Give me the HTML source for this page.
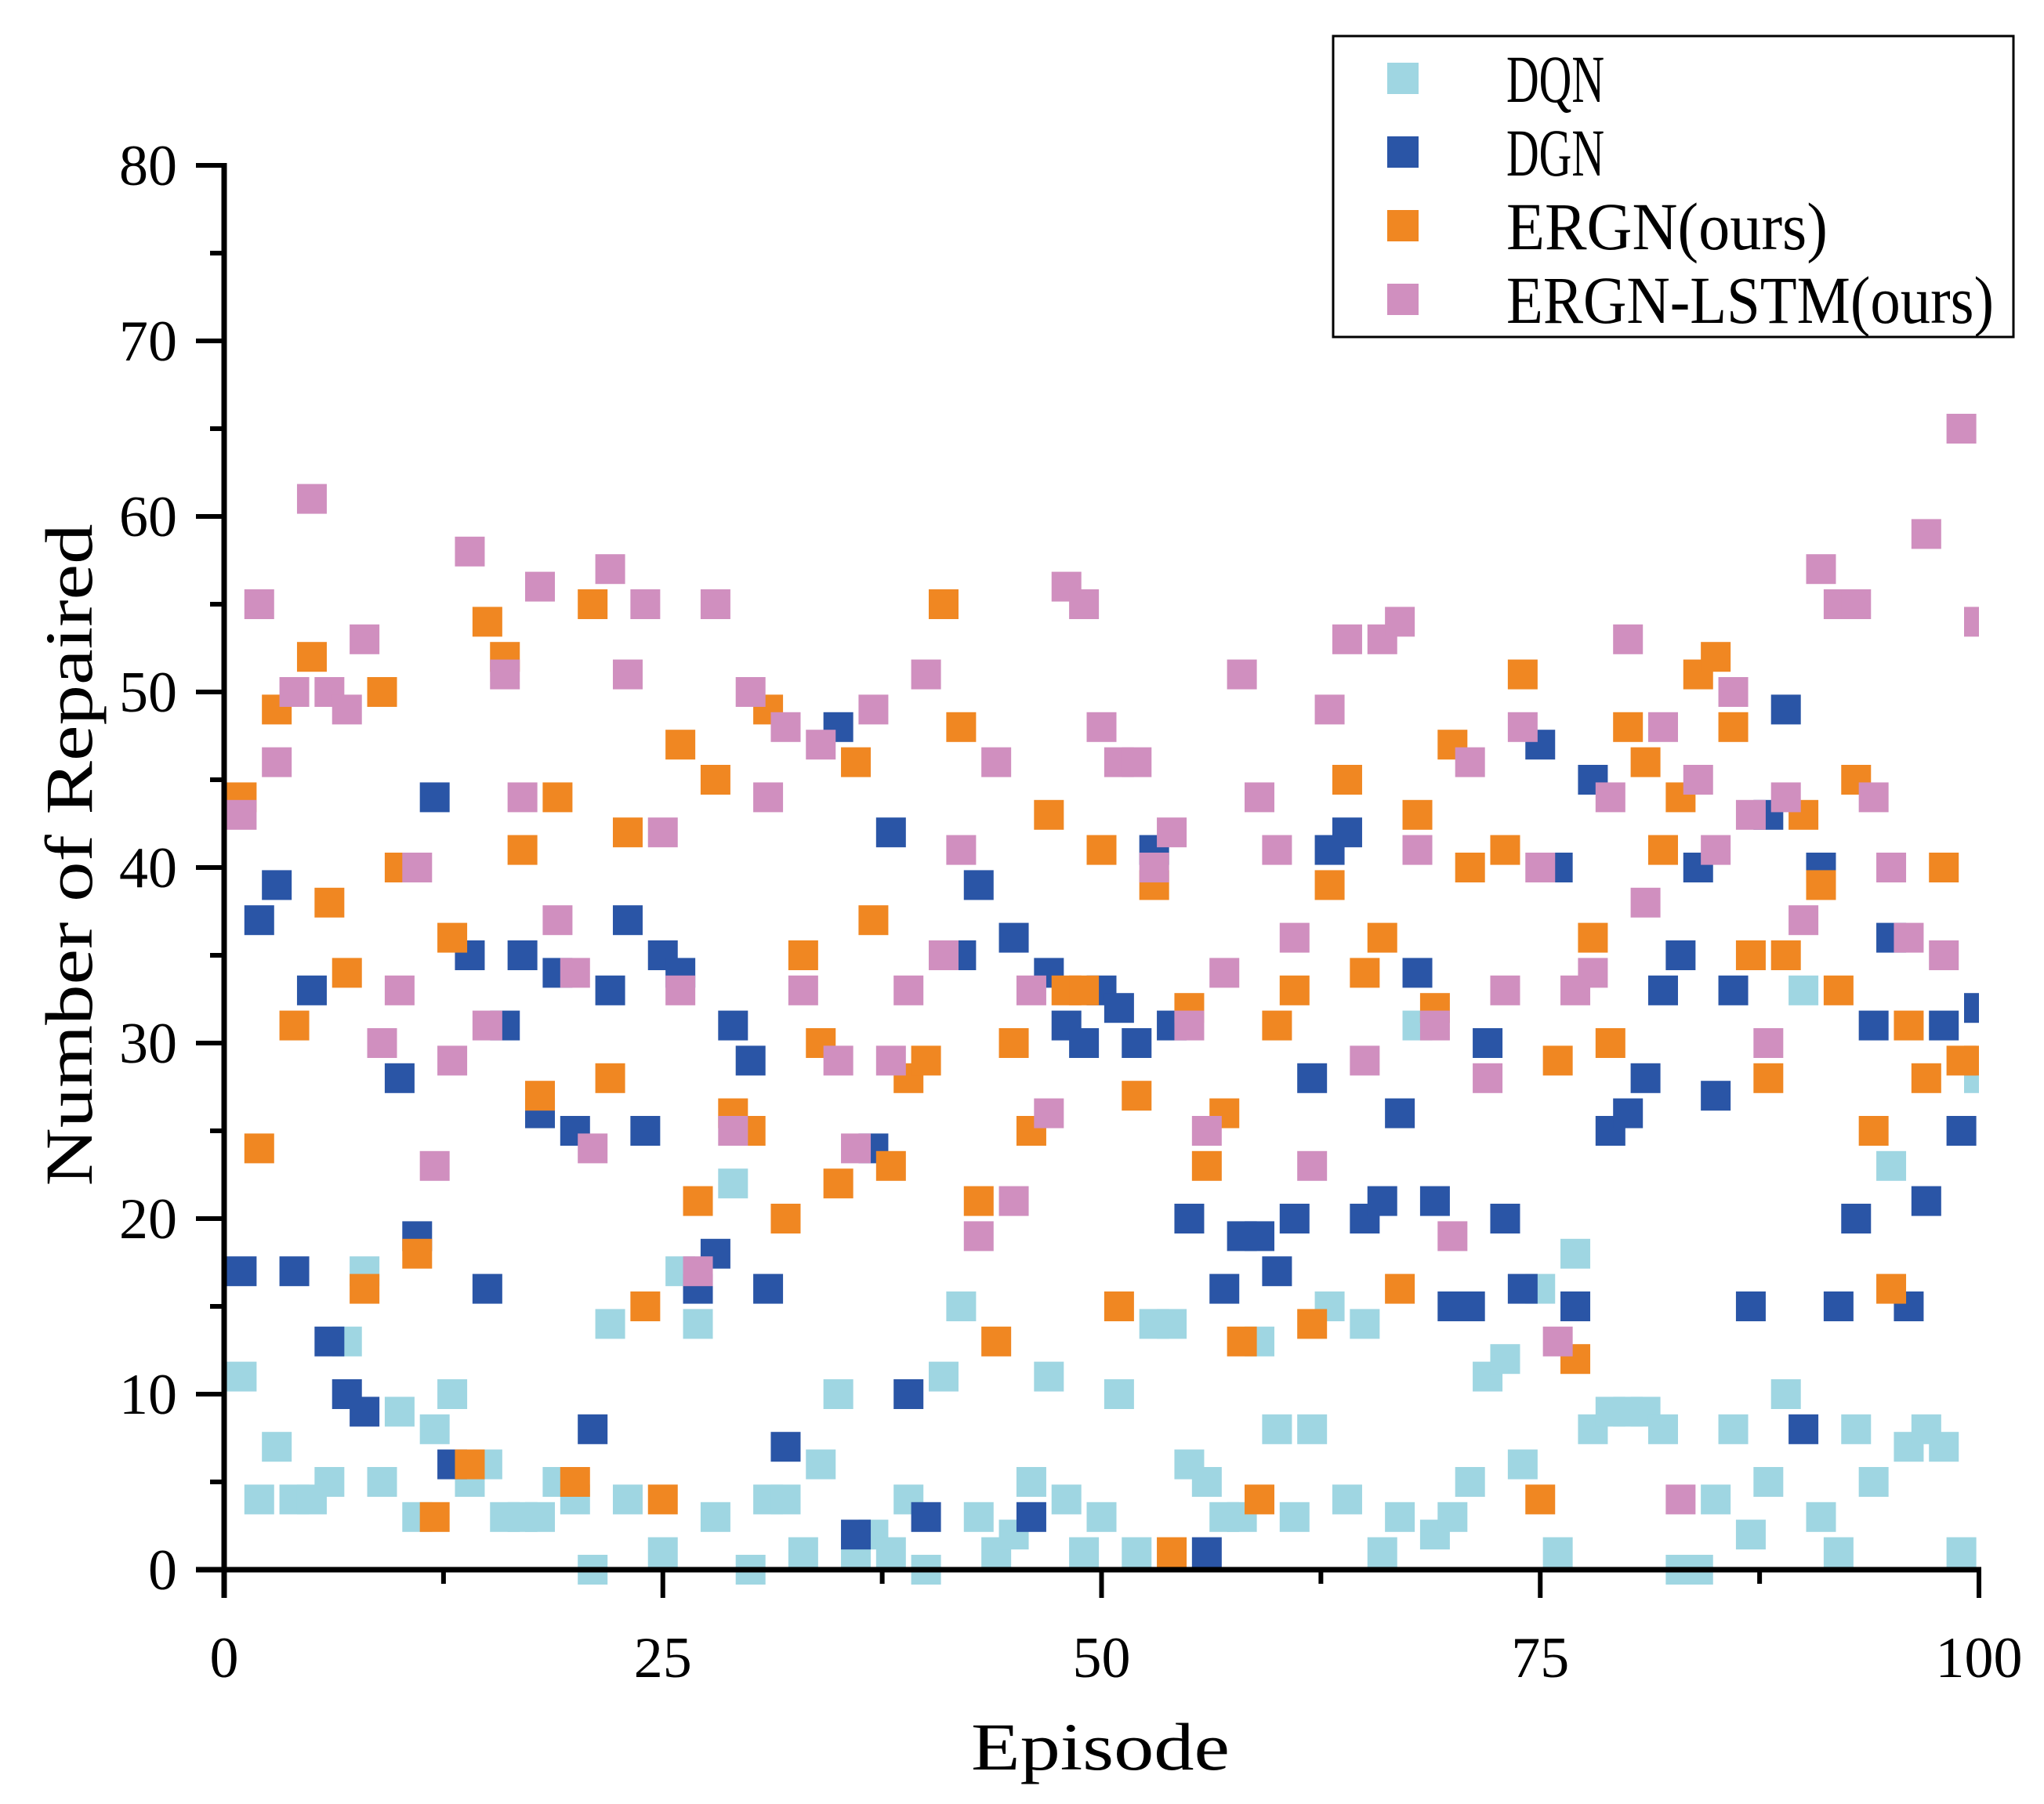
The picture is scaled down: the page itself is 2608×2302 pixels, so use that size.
<!DOCTYPE html>
<html><head><meta charset="utf-8"><style>
html,body{margin:0;padding:0;background:#fff;}
svg{display:block;}
</style></head><body>
<svg id="chart" width="2608" height="2302" viewBox="0 0 2608 2302" xmlns="http://www.w3.org/2000/svg">
<defs><clipPath id="plotclip"><rect x="289" y="150" width="2236" height="1890"/></clipPath></defs>
<rect width="2608" height="2302" fill="#fff"/>
<g id="marks" clip-path="url(#plotclip)"></g>
<g id="axes"></g>
<g id="legend"></g>
</svg>
<script>
const episodes = Array.from({length:100},(_, i)=>i+1);
const dqn = [11,4,7,4,4,5,13,17,5,9,3,8,10,5,6,3,3,3,5,4,0,14,4,null,1,17,14,3,22,0,4,4,1,6,10,1,2,1,4,0,11,15,3,1,2,5,11,4,1,3,10,1,14,14,6,5,3,3,13,8,3,8,15,4,14,1,3,31,2,3,5,11,12,6,16,1,18,8,9,9,9,8,0,0,4,8,2,5,10,33,3,1,8,5,23,7,8,7,1,28];
const dgn = [17,37,39,17,33,13,10,9,null,28,19,44,6,35,16,31,35,26,34,25,8,33,37,25,35,34,16,18,31,29,16,7,null,null,48,2,24,42,10,3,null,35,39,null,36,3,34,31,30,33,32,30,41,31,20,1,16,19,19,17,20,28,41,42,20,21,26,34,21,15,15,30,20,16,47,40,15,45,25,26,28,33,35,40,27,33,15,43,49,8,40,15,20,31,36,15,21,31,25,32];
const ergn = [44,24,49,31,52,38,34,16,50,40,18,3,36,6,54,52,41,27,44,5,55,28,42,15,4,47,21,45,26,25,49,20,35,30,22,46,37,23,28,29,55,48,21,13,30,25,43,33,33,41,15,27,39,1,32,23,26,13,4,31,33,14,39,45,34,36,16,43,32,47,40,null,41,51,4,29,12,36,30,48,46,41,44,51,52,48,35,28,35,43,39,33,45,25,16,31,28,40,29,29];
const lstm = [43,55,46,50,61,50,49,53,30,33,40,23,29,58,31,51,44,56,37,34,24,57,51,55,42,33,17,55,25,50,44,48,33,47,29,24,49,29,33,51,35,41,19,46,21,33,26,56,55,48,46,46,40,42,31,25,34,51,44,41,36,23,49,53,29,53,54,41,31,19,46,28,33,48,40,13,33,34,44,53,38,48,4,45,41,50,43,30,44,37,57,55,55,44,40,36,59,35,65,54];
const seriesNames = ["DQN","DGN","ERGN(ours)","ERGN-LSTM(ours)"];
const seriesColors = ["#9fd6e2","#2a55a6","#f08722","#d08fbf"];
const yTicks = [0,10,20,30,40,50,60,70,80];
const xTicks = [0,25,50,75,100];

const NS="http://www.w3.org/2000/svg";
const X0=286, XW=2239, Y0=2003, YH=1792;
function xs(v){return X0+v/100*XW;}
function ys(v){return Y0-v/80*YH;}
function mk(tag,attrs,parent){const e=document.createElementNS(NS,tag);for(const k in attrs)e.setAttribute(k,attrs[k]);parent.appendChild(e);return e;}

const marks=document.getElementById('marks');
const allSeries=[dqn,dgn,ergn,lstm];
const S=38;
allSeries.forEach((arr,si)=>{
  const g=mk('g',{},marks);
  
  
  arr.forEach((v,i)=>{
    if(v===null)return;
    const r=mk('rect',{x:xs(episodes[i])-S/2,y:ys(v)-S/2,width:S,height:S,fill:seriesColors[si]},g);
    
    
  });
});

const axes=document.getElementById('axes');
const serif='"Liberation Serif", "Noto Serif CJK SC", serif';
const ya=mk('line',{x1:X0,y1:ys(80)-3,x2:X0,y2:Y0+36,stroke:'#000','stroke-width':7},axes);

const xa=mk('line',{x1:X0-36,y1:Y0,x2:xs(100)+3,y2:Y0,stroke:'#000','stroke-width':7},axes);

for(let v=0;v<=80;v+=5){
  const major=v%10===0;
  mk('line',{x1:X0-(major?36:18),y1:ys(v),x2:X0,y2:ys(v),stroke:'#000','stroke-width':6},axes);
}
yTicks.forEach(v=>{
  const t=mk('text',{x:226,y:ys(v)+25,'text-anchor':'end','font-family':serif,'font-size':74,fill:'#000'},axes);
  t.textContent=String(v);
  
  
});
for(let v=0;v<=100;v+=12.5){
  const major=v%25===0;
  mk('line',{x1:xs(v),y1:Y0,x2:xs(v),y2:Y0+(major?36:18),stroke:'#000','stroke-width':6},axes);
}
xTicks.forEach(v=>{
  const t=mk('text',{x:xs(v),y:2140,'text-anchor':'middle','font-family':serif,'font-size':74,fill:'#000'},axes);
  t.textContent=String(v);
  
  
});
const xt=mk('text',{x:1404,y:2258,'text-anchor':'middle','font-family':serif,'font-size':86,fill:'#000',textLength:330,lengthAdjust:'spacingAndGlyphs'},axes);
xt.textContent='Episode';

const yt=mk('text',{x:0,y:0,'text-anchor':'middle','font-family':serif,'font-size':86,fill:'#000',textLength:845,lengthAdjust:'spacingAndGlyphs',transform:'translate(117,1091) rotate(-90)'},axes);
yt.textContent='Number of Repaired';


const lg=document.getElementById('legend');
const box=mk('rect',{x:1701,y:46,width:868,height:384,fill:'#fff',stroke:'#000','stroke-width':3},lg);

const lw=[125,125,410,622];
seriesNames.forEach((n,i)=>{
  const cy=100+i*94;
  const g=mk('g',{},lg);
  
  
  mk('rect',{x:1770,y:cy-20,width:40,height:40,fill:seriesColors[i]},g);
  const t=mk('text',{x:1922,y:cy+30,'font-family':serif,'font-size':86,fill:'#000',textLength:lw[i],lengthAdjust:'spacingAndGlyphs'},g);
  t.textContent=n;
});
</script>
</body></html>
